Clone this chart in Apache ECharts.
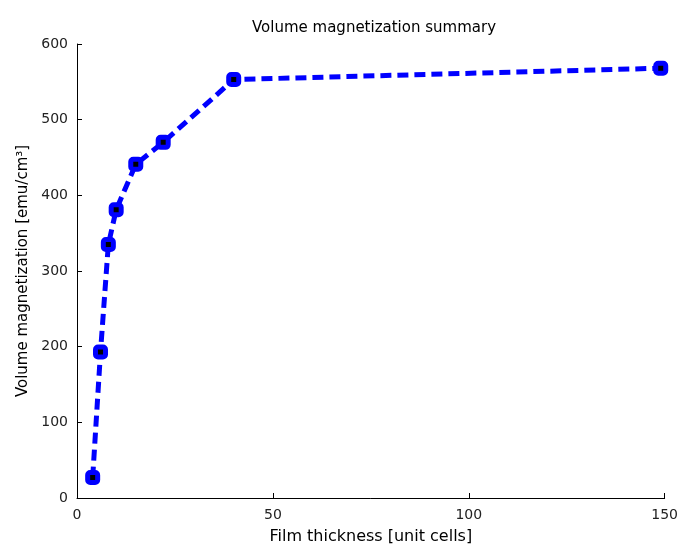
<!DOCTYPE html>
<html>
<head>
<meta charset="utf-8">
<script src="https://cdn.jsdelivr.net/npm/echarts@6/dist/echarts.min.js"></script>
<style>
html, body { margin: 0; padding: 0; background: #fff; }
#chart { width: 681px; height: 550px; }
</style>
</head>
<body>
<div id="chart"></div>
<script>
// film thickness (unit cells) vs volume magnetization (emu/cm3)
var thickness = [4, 6, 8, 10, 15, 22, 40, 149];
var magnetization = [27, 193, 335, 381, 441, 470, 553, 568];

var points = thickness.map(function (t, i) {
	return [t, magnetization[i]];
});

var chart = echarts.init(document.getElementById('chart'));
var font = 'DejaVu Sans';

var option = {
	animation: false,
	backgroundColor: '#fff',
	title: {
		text: 'Volume magnetization summary',
		left: 369,
		top: 16,
		textAlign: 'center',
		textStyle: { fontFamily: font, fontSize: 15, fontWeight: 'normal', color: '#000' }
	},
	grid: { left: 77, right: 14, top: 44, bottom: 52 },
	xAxis: {
		type: 'value',
		min: 0, max: 150, interval: 50,
		name: 'Film thickness [unit cells]',
		nameLocation: 'middle',
		nameGap: 31,
		nameTextStyle: { fontFamily: font, fontSize: 16, color: '#000' },
		axisLine: { lineStyle: { color: '#000', width: 1 } },
		axisTick: { inside: true, length: 5, lineStyle: { color: '#000' } },
		axisLabel: { fontFamily: font, fontSize: 14, color: '#222', margin: 10 },
		splitLine: { show: false }
	},
	yAxis: {
		type: 'value',
		min: 0, max: 600, interval: 100,
		name: 'Volume magnetization [emu/cm³]',
		nameLocation: 'middle',
		nameGap: 44,
		nameTextStyle: { fontFamily: font, fontSize: 15, color: '#000' },
		axisLine: { show: true, lineStyle: { color: '#000', width: 1 } },
		axisTick: { show: true, inside: true, length: 5, lineStyle: { color: '#000' } },
		axisLabel: { fontFamily: font, fontSize: 14, color: '#222', margin: 9 },
		splitLine: { show: false }
	},
	series: [
		{
			type: 'line',
			data: points,
			symbol: 'roundRect',
			symbolSize: 10,
			lineStyle: { color: '#0000ff', width: 5, type: [11, 6] },
			itemStyle: { color: '#000', borderColor: '#0000ff', borderWidth: 5 }
		}
	]
};

chart.setOption(option);
</script>
</body>
</html>
